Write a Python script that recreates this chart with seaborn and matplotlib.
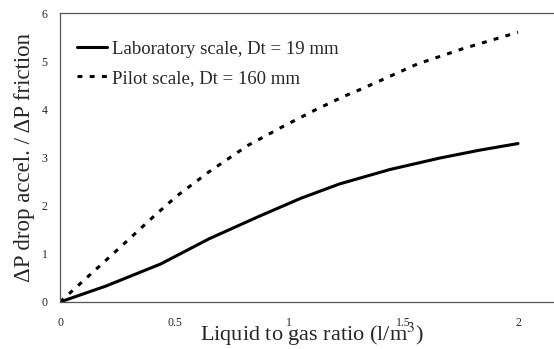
import matplotlib
matplotlib.use("Agg")
import matplotlib.pyplot as plt
import seaborn as sns
import pandas as pd

lab_x = [0, 0.2, 0.44, 0.65, 0.87, 1.05, 1.22, 1.44, 1.66, 1.83, 2.0]
lab_y = [0, 0.33, 0.79, 1.31, 1.78, 2.15, 2.45, 2.75, 2.99, 3.15, 3.29]
pilot_x = [0, 0.25, 0.41, 0.51, 0.65, 0.82, 0.98, 1.12, 1.24, 1.33, 1.56, 1.76, 2.0]
pilot_y = [0, 1.08, 1.78, 2.2, 2.7, 3.25, 3.66, 4.0, 4.27, 4.45, 4.94, 5.26, 5.6]
lab_label = "Laboratory scale, Dt = 19 mm"
pilot_label = "Pilot scale, Dt = 160 mm"
x_ticks = [0, 0.5, 1, 1.5, 2]
x_tick_labels = ["0", "0.5", "1", "1.5", "2"]
y_ticks = [0, 1, 2, 3, 4, 5, 6]

sns.set_style("white")
plt.rcParams['font.family'] = ['Liberation Serif', 'DejaVu Serif']
plt.rcParams['mathtext.fontset'] = 'stix'

df = pd.concat([
    pd.DataFrame({"x": lab_x, "y": lab_y, "series": lab_label}),
    pd.DataFrame({"x": pilot_x, "y": pilot_y, "series": pilot_label}),
])

fig = plt.figure(figsize=(5.54, 3.49), dpi=100)
ax = fig.add_axes([60/554, 1-302/349, 1-60/554, (302-13)/349])

sns.lineplot(data=df[df.series == lab_label], x="x", y="y", ax=ax, color="black",
             lw=2.2, label=lab_label, sort=False)
sns.lineplot(data=df[df.series == pilot_label], x="x", y="y", ax=ax, color="black",
             lw=2.2, linestyle=(0, (1.6, 2.4)), label=pilot_label, sort=False)

ax.set_xlim(0, (554-60)/229)
ax.set_ylim(0, 6)
ax.set_xticks(x_ticks)
ax.set_xticklabels(x_tick_labels)
ax.set_yticks(y_ticks)
ax.tick_params(axis="both", labelsize=8.5, length=3, width=0.8, color="#555555", direction="out", pad=6)
ax.tick_params(axis="x", pad=8)

for s in ["left", "bottom", "top"]:
    ax.spines[s].set_visible(True)
    ax.spines[s].set_color("#555555")
    ax.spines[s].set_linewidth(0.9)
ax.spines["right"].set_visible(False)

ax.set_xlabel("Liquid to gas ratio (l/m$^3$)", fontsize=16)
ax.xaxis.set_label_coords(0.51, -0.135)
ax.xaxis.label.set_va("baseline")
ax.set_ylabel("ΔP drop accel. / ΔP friction", fontsize=16.5, labelpad=5)

leg = ax.legend(loc="upper left", frameon=False, fontsize=13.5, handlelength=1.6,
                handletextpad=0.3, labelspacing=0.65, borderpad=0, borderaxespad=0,
                bbox_to_anchor=(0.034, 0.905))

fig.savefig("out.png", dpi=100)
